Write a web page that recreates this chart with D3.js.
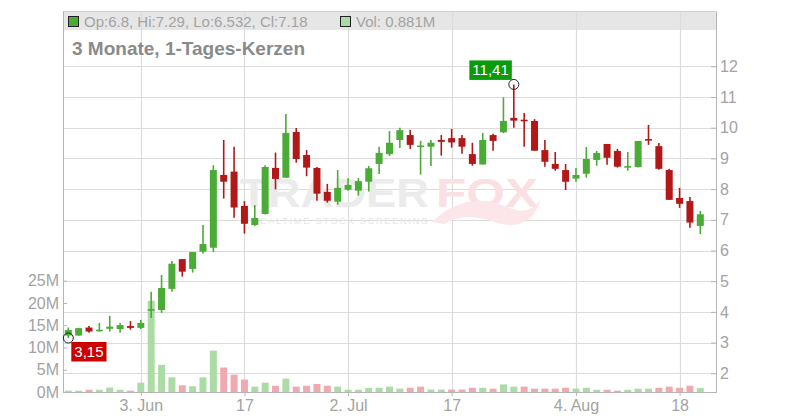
<!DOCTYPE html>
<html><head><meta charset="utf-8">
<script src="https://cdn.jsdelivr.net/npm/d3@7"></script>
<style>
body{margin:0;background:#fff}
svg{display:block;font-family:"Liberation Sans",Arial,sans-serif}
</style>
</head><body><svg id="c" width="800" height="420"></svg>
<script>
const dates = ["2025-05-22","2025-05-23","2025-05-27","2025-05-28","2025-05-29","2025-05-30","2025-06-02","2025-06-03","2025-06-04","2025-06-05",
"2025-06-06","2025-06-09","2025-06-10","2025-06-11","2025-06-12","2025-06-13","2025-06-16","2025-06-17","2025-06-18","2025-06-20",
"2025-06-23","2025-06-24","2025-06-25","2025-06-26","2025-06-27","2025-06-30","2025-07-01","2025-07-02","2025-07-03","2025-07-07",
"2025-07-08","2025-07-09","2025-07-10","2025-07-11","2025-07-14","2025-07-15","2025-07-16","2025-07-17","2025-07-18","2025-07-21",
"2025-07-22","2025-07-23","2025-07-24","2025-07-25","2025-07-28","2025-07-29","2025-07-30","2025-07-31","2025-08-01","2025-08-04",
"2025-08-05","2025-08-06","2025-08-07","2025-08-08","2025-08-11","2025-08-12","2025-08-13","2025-08-14","2025-08-15","2025-08-18",
"2025-08-19","2025-08-20"];
const open = [3.23,3.23,3.49,3.39,3.45,3.44,3.54,3.48,4.04,4.06,
4.75,5.72,5.40,5.96,6.09,8.46,8.57,7.45,6.83,7.19,
8.69,8.37,9.86,9.11,8.69,7.91,7.59,7.98,7.95,8.24,
8.82,9.14,9.60,9.76,9.38,9.38,9.60,9.66,9.66,9.14,
8.80,9.76,9.85,10.32,10.26,10.22,9.27,8.82,8.62,8.34,
8.50,8.95,9.47,9.24,8.72,8.72,9.63,9.40,8.62,7.71,
7.61,6.8];
const high = [3.49,3.48,3.54,3.64,3.87,3.64,3.70,3.74,4.66,5.20,
5.66,5.72,5.95,6.83,8.78,9.60,9.38,7.61,7.48,8.78,
9.19,10.45,9.99,9.27,8.72,8.17,8.62,8.35,8.36,8.75,
9.38,9.89,10.00,9.93,9.57,9.60,9.76,9.96,9.76,9.51,
9.83,9.80,10.99,11.41,10.48,10.28,9.60,9.21,8.82,8.69,
9.37,9.24,9.47,9.31,9.21,9.57,10.09,9.50,8.66,8.04,
7.74,7.29];
const low = [3.15,3.22,3.32,3.36,3.36,3.32,3.42,3.44,3.80,3.97,
4.66,5.15,5.28,5.90,5.95,7.69,7.07,6.55,6.80,7.17,
7.99,8.37,8.86,8.42,7.62,7.56,7.49,7.95,7.79,7.92,
8.49,9.08,9.34,9.31,8.47,8.75,9.09,9.35,9.15,8.76,
8.80,9.25,9.82,10.00,9.38,9.25,8.73,8.60,7.97,8.24,
8.37,8.76,8.79,8.70,8.60,8.70,9.44,8.63,7.65,7.39,
6.74,6.532];
const close = [3.41,3.47,3.36,3.42,3.52,3.57,3.48,3.64,4.09,4.78,
5.57,5.31,5.95,6.21,8.62,8.24,7.40,6.87,7.06,8.72,
8.33,9.83,8.98,8.70,7.85,7.62,8.04,8.14,8.26,8.68,
9.18,9.51,9.92,9.44,9.42,9.51,9.54,9.52,9.38,8.82,
9.60,9.57,10.22,10.23,10.21,9.25,8.89,8.66,8.24,8.46,
8.98,9.18,9.02,8.73,8.75,9.57,9.59,8.66,7.65,7.52,
6.91,7.18];
const volume = [0.3,0.3,0.5,0.5,1.0,0.5,0.3,2.1,20.5,6.1,
3.3,1.5,1.3,3.3,9.3,5.5,3.9,2.8,1.2,2.1,
1.4,3.0,1.2,1.4,1.8,1.4,1.2,0.5,0.5,0.9,
0.95,1.2,0.75,0.95,1.2,0.55,0.55,0.55,0.55,0.95,
0.95,0.75,1.7,1.2,1.2,0.75,0.75,0.75,0.95,0.75,
0.95,0.5,0.5,0.3,0.5,0.75,0.75,0.95,1.2,0.95,
1.4,0.881];
const priceTicks = [2,3,4,5,6,7,8,9,10,11,12];
const volumeTicks = [0,5,10,15,20,25];
const xTickDates = ["2025-06-03","2025-06-17","2025-07-02","2025-07-17","2025-08-04","2025-08-18"];
const xTickLabels = ["3. Jun","17","2. Jul","17","4. Aug","18"];
const titleText = "3 Monate, 1-Tages-Kerzen";

const W=800,H=420, L=63, R=716, T=11.5, B=392;
const GREEN="#4aab36", RED="#b31818", VGREEN="#acdca5", VRED="#f0a9b1";
const TXT="#a3a3a3", GRID="#dcdcdc", AXIS="#b5b5b5";

const svg=d3.select("#c");
const x=d3.scalePoint().domain(dates).range([68.3,700.3]);
const yP=d3.scaleLinear().domain([2,12]).range([373.3,66.3]);
const yV=d3.scaleLinear().domain([0,25]).range([B,280.7]);
const bw=7;

// header band
svg.append("rect").attr("x",L).attr("y",T).attr("width",R-L).attr("height",30-T).attr("fill","#e6e6e6");
svg.append("line").attr("x1",L).attr("x2",R).attr("y1",T).attr("y2",T).attr("stroke","#cfcfcf");

// grid
svg.append("g").selectAll("line").data(priceTicks).join("line")
  .attr("x1",L).attr("x2",R).attr("y1",d=>Math.round(yP(d))+0.5).attr("y2",d=>Math.round(yP(d))+0.5)
  .attr("stroke",GRID).attr("stroke-width",1.2);
svg.append("g").selectAll("line").data(xTickDates).join("line")
  .attr("x1",d=>Math.round(x(d))+0.5).attr("x2",d=>Math.round(x(d))+0.5).attr("y1",T).attr("y2",B)
  .attr("stroke",GRID).attr("stroke-width",1.2);

// watermark
const wm=svg.append("g");
wm.append("text").attr("x",240).attr("y",207).attr("font-size",40).attr("font-weight","bold")
  .attr("fill","#ebebeb").attr("textLength",189).attr("lengthAdjust","spacingAndGlyphs").text("TRADER");
wm.append("text").attr("x",436).attr("y",207).attr("font-size",40).attr("font-weight","bold")
  .attr("fill","#fbe0e3").attr("textLength",102).attr("lengthAdjust","spacingAndGlyphs").text("FOX");
wm.append("path").attr("d","M432,222 C455,200 480,196 505,206 C520,212 530,214 540,200 C535,222 515,230 495,222 C478,216 460,214 445,224 Z")
  .attr("fill","#fce6e9");
wm.append("text").attr("x",252).attr("y",224).attr("font-size",9)
  .attr("fill","#e4e4e4").attr("textLength",176).attr("lengthAdjust","spacing").text("REALTIME STOCK SCREENING");

// volume
svg.append("g").selectAll("rect").data(dates).join("rect")
  .attr("x",d=>x(d)-bw/2).attr("width",bw)
  .attr("y",(d,i)=>yV(volume[i])).attr("height",(d,i)=>B-yV(volume[i]))
  .attr("fill",(d,i)=> (i===0 || close[i]>=close[i-1]) ? VGREEN : VRED);

// candles
const cg=svg.append("g");
cg.selectAll("line").data(dates).join("line")
  .attr("x1",d=>x(d)).attr("x2",d=>x(d))
  .attr("y1",(d,i)=>yP(high[i])).attr("y2",(d,i)=>yP(low[i]))
  .attr("stroke",(d,i)=>close[i]>=open[i]?GREEN:RED).attr("stroke-width",1.6);
cg.selectAll("rect").data(dates).join("rect")
  .attr("x",d=>x(d)-bw/2).attr("width",bw)
  .attr("y",(d,i)=>yP(Math.max(open[i],close[i])))
  .attr("height",(d,i)=>Math.max(1.6,Math.abs(yP(open[i])-yP(close[i]))))
  .attr("fill",(d,i)=>close[i]>=open[i]?GREEN:RED);

// axes
function styleAxis(g){
  g.select(".domain").remove();
  g.selectAll(".tick line").attr("stroke",AXIS);
  g.selectAll(".tick text").attr("fill",TXT).attr("font-size",16).attr("font-family","'Liberation Sans',Arial,sans-serif");
}
svg.append("g").attr("transform",`translate(${R},0)`)
  .call(d3.axisRight(yP).tickValues(priceTicks).tickSize(-5).tickPadding(4).tickFormat(d3.format("d"))).call(styleAxis);
svg.append("g").attr("transform",`translate(${L},0)`)
  .call(d3.axisLeft(yV).tickValues(volumeTicks).tickSize(-4).tickPadding(4).tickFormat(d=>d+"M")).call(styleAxis);
svg.append("g").attr("transform",`translate(0,${B})`)
  .call(d3.axisBottom(x).tickValues(xTickDates).tickSize(4).tickPadding(4).tickFormat((d,i)=>xTickLabels[i])).call(styleAxis);

// frame lines
svg.append("line").attr("x1",L+0.5).attr("x2",L+0.5).attr("y1",T).attr("y2",B).attr("stroke",AXIS);
svg.append("line").attr("x1",R+0.5).attr("x2",R+0.5).attr("y1",T).attr("y2",B).attr("stroke",AXIS);
svg.append("line").attr("x1",L).attr("x2",R+1).attr("y1",B+0.5).attr("y2",B+0.5).attr("stroke",AXIS);

// header text
const n=dates.length-1;
svg.append("rect").attr("x",68.5).attr("y",16.5).attr("width",10).attr("height",10).attr("fill",GREEN).attr("stroke","#222");
svg.append("text").attr("x",84).attr("y",26.5).attr("font-size",15).attr("fill",TXT)
  .text(`Op:${open[n]}, Hi:${high[n]}, Lo:${low[n]}, Cl:${close[n]}`);
svg.append("rect").attr("x",340.5).attr("y",16.5).attr("width",10).attr("height",10).attr("fill",VGREEN).attr("stroke","#222");
svg.append("text").attr("x",356).attr("y",26.5).attr("font-size",15).attr("fill",TXT)
  .text(`Vol: ${volume[n]}M`);
svg.append("text").attr("x",72).attr("y",54.5).attr("font-size",19).attr("font-weight","bold").attr("fill","#8a8a8a").text(titleText);

// annotations: max high and min low
const fmt=v=>v.toFixed(2).replace(".",",");
const iMax=d3.maxIndex(high), iMin=d3.minIndex(low);
function annot(i,val,color,above){
  const cx=x(dates[i]), cy=yP(val);
  svg.append("circle").attr("cx",cx).attr("cy",cy).attr("r",5).attr("fill","none").attr("stroke","#222").attr("stroke-width",1);
  const g=svg.append("g");
  const t=g.append("text").attr("font-size",15).attr("fill","#fff").text(fmt(val));
  const w=t.node().getComputedTextLength()+6, h=19.5;
  const bx= above ? cx-2-w : cx+3;
  const by= above ? cy-4.5-h : cy+4;
  g.insert("rect","text").attr("x",bx).attr("y",by).attr("width",w).attr("height",h).attr("fill",color);
  t.attr("x",bx+3).attr("y",by+15);
}
annot(iMax,high[iMax],"#0a9a0a",true);
annot(iMin,low[iMin],"#cc0000",false);
</script>
</body></html>
